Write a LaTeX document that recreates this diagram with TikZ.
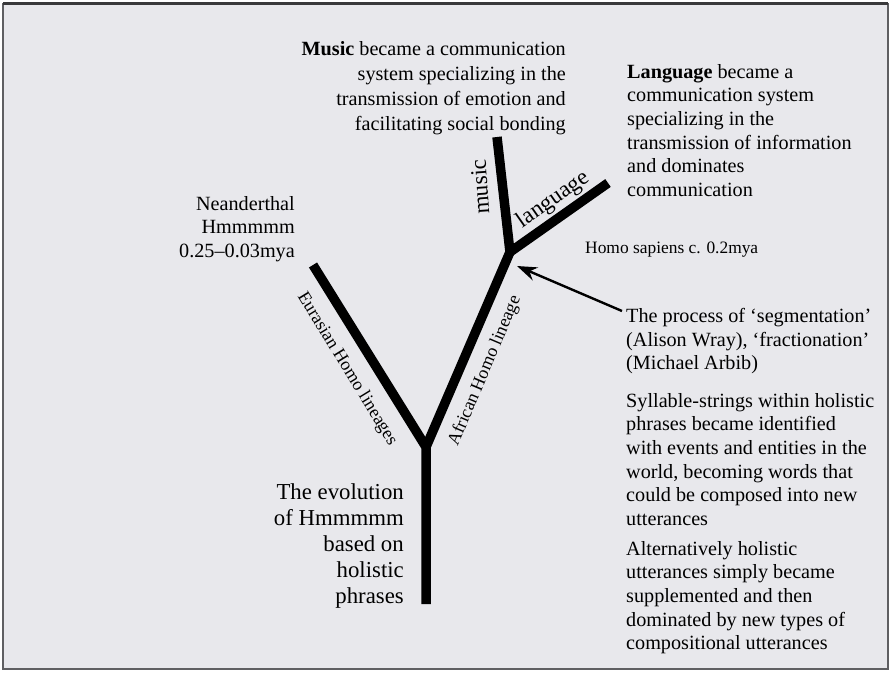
\documentclass[tikz,border=0pt]{standalone}
\usepackage{fontspec}
\setmainfont{Liberation Serif}
\usepackage{tikz}
\usetikzlibrary{calc, positioning, arrows.meta}
\definecolor{paperGrey}{RGB}{232,232,236}
\definecolor{frameGrey}{RGB}{95,95,98}

\begin{document}
\begin{tikzpicture}[
  x=1pt, y=-1pt,
  branch/.style={line width=9.5pt, line join=miter},
  note/.style={inner sep=0pt, font=\fontsize{20.2}{23.6}\selectfont},
  topnote/.style={inner sep=0pt, font=\fontsize{20.2}{25}\selectfont},
  bignote/.style={inner sep=0pt, font=\fontsize{22.8}{26}\selectfont},
  smallnote/.style={inner sep=0pt, font=\fontsize{17.4}{19}\selectfont},
  lineage/.style={inner sep=0pt, font=\fontsize{18}{20}\selectfont},
  twig/.style={inner sep=0pt, font=\fontsize{23}{25}\selectfont},
]
% --- Frame ---------------------------------------------------------
\fill[white] (0,0) rectangle (891,674);
\useasboundingbox (0,0) rectangle (891,674);
\fill[paperGrey] (3,4) rectangle (888,669);
\draw[frameGrey, line width=1.2pt] (3,4) rectangle (888,669);
\draw[frameGrey!60!black, line width=3pt] (3,4) -- (888,4);

% --- Tree ----------------------------------------------------------
\coordinate (root)     at (426,604);
\coordinate (fork)     at (426,447);
\coordinate (neander)  at (313,265);
\coordinate (sapiens)  at (510,252);
\coordinate (musictip) at (497,137);
\coordinate (langtip)  at (608,183);

\draw[branch] (neander) -- (fork) -- (root);
\draw[branch] (fork) -- (sapiens) -- (musictip);
\draw[branch] (sapiens) -- (langtip);

% labels along the branches
\node[lineage, rotate=-58.5] (eurasian) at (347,369) {Eurasian Homo lineages};
\node[lineage, rotate=67]    (african)  at (485,371) {African Homo lineage};
\node[twig, rotate=94]       (music)    at (480,187) {music};
\node[twig, rotate=35]       (language) at (553,200) {language};

% --- Notes ---------------------------------------------------------
\node[topnote, anchor=north east, align=right] (musicnote) at (566,41)
  {\textbf{Music} became a communication\\ system specializing in the\\
   transmission of emotion and\\ facilitating social bonding};

\node[note, anchor=north west, align=left] (langnote) at (627,64)
  {\textbf{Language} became a\\ communication system\\ specializing in the\\
   transmission of information\\ and dominates\\ communication};

\node[note, anchor=north east, align=right] (neandnote) at (295,196)
  {Neanderthal\\ Hmmmmm\\ 0.25--0.03mya};

\node[smallnote, anchor=west] (sapnote) at (585,250) {Homo sapiens c. 0.2mya};

\node[note, anchor=north west, align=left] (segnote) at (626,308)
  {The process of `segmentation'\\ (Alison Wray), `fractionation'\\ (Michael Arbib)};

\node[note, anchor=north west, align=left] (wordnote) at (626,393)
  {Syllable-strings within holistic\\ phrases became identified\\
   with events and entities in the\\ world, becoming words that\\
   could be composed into new\\ utterances};

\node[note, anchor=north west, align=left] (altnote) at (626,541)
  {Alternatively holistic\\ utterances simply became\\ supplemented and then\\
   dominated by new types of\\ compositional utterances};

\node[bignote, anchor=north east, align=right] (evonote) at (404,483)
  {The evolution\\ of Hmmmmm\\ based on\\ holistic\\ phrases};

% segmentation arrow
\coordinate (segtip) at (517,266);
\draw[-{Stealth[length=20pt,width=14pt]}, line width=2.4pt]
  ($(segnote.north west)+(-4,3)$) -- (segtip);
\end{tikzpicture}
\end{document}
